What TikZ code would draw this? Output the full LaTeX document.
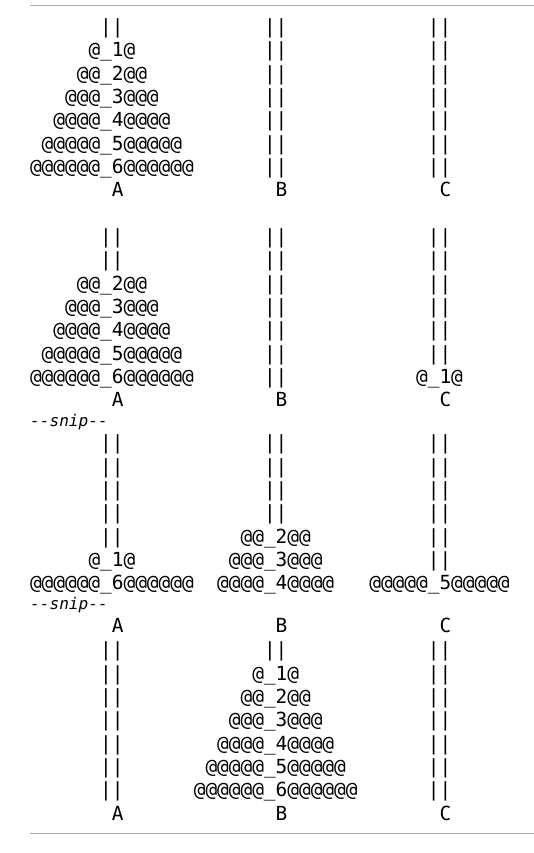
\documentclass[tikz,border=0pt]{standalone}
\usepackage{fontspec}
\setmonofont{DejaVu Sans Mono}
\newfontfamily\snipfont{DejaVu Sans Mono Oblique}
\definecolor{rulegray}{HTML}{AAAAAA}

\begin{document}
\begin{tikzpicture}[
    x=1pt, y=-1pt,
    disk/.style={font=\fontsize{19.43}{23.33}\ttfamily, inner sep=0pt, anchor=base},
    pegname/.style={disk},
    snip/.style={font=\fontsize{16.1}{19}\snipfont, inner sep=0pt, anchor=base west},
    rule/.style={draw=rulegray, line width=1pt}
]
\useasboundingbox (0,0) rectangle (534,853);

% Rules
\coordinate (topL) at (30,6);
\coordinate (topR) at (534,6);
\coordinate (botL) at (30,833.3);
\coordinate (botR) at (534,833.3);
\draw[rule] (topL) -- (topR);
\draw[rule] (botL) -- (botR);

% Towers, top row first
\foreach \nm/\k/\y/\rows in {
    s1A/0/33.4/{||,@\_1@,@@\_2@@,@@@\_3@@@,@@@@\_4@@@@,@@@@@\_5@@@@@,@@@@@@\_6@@@@@@},
    s1B/1/33.4/{||,||,||,||,||,||,||},
    s1C/2/33.4/{||,||,||,||,||,||,||},
    s2A/0/243.4/{||,||,@@\_2@@,@@@\_3@@@,@@@@\_4@@@@,@@@@@\_5@@@@@,@@@@@@\_6@@@@@@},
    s2B/1/243.4/{||,||,||,||,||,||,||},
    s2C/2/243.4/{||,||,||,||,||,||,@\_1@},
    s3A/0/449.8/{||,||,||,||,||,@\_1@,@@@@@@\_6@@@@@@},
    s3B/1/449.8/{||,||,||,||,@@\_2@@,@@@\_3@@@,@@@@\_4@@@@},
    s3C/2/449.8/{||,||,||,||,||,||,@@@@@\_5@@@@@},
    s4A/0/656.8/{||,||,||,||,||,||,||},
    s4B/1/656.8/{||,@\_1@,@@\_2@@,@@@\_3@@@,@@@@\_4@@@@,@@@@@\_5@@@@@,@@@@@@\_6@@@@@@},
    s4C/2/656.8/{||,||,||,||,||,||,||}}{
    \foreach \r [count=\i from 0] in \rows
        \node[disk] (\nm-\i) at ({30+(14*\k+7)*11.7}, {\y+\i*23.33}) {\r};
}

% Peg names
\foreach \s/\y in {1/196.7, 2/406.7, 3/632.9, 4/820.1}
    \foreach \t/\k in {A/0, B/1, C/2}
        \node[pegname] (\t\s) at ({30+(14*\k+7.5)*11.7}, \y) {\t};

% Snips
\node[snip] (snip1) at (30,426.8) {-\kern0pt-snip-\kern0pt-};
\node[snip] (snip2) at (30,609.9) {-\kern0pt-snip-\kern0pt-};
\end{tikzpicture}
\end{document}
